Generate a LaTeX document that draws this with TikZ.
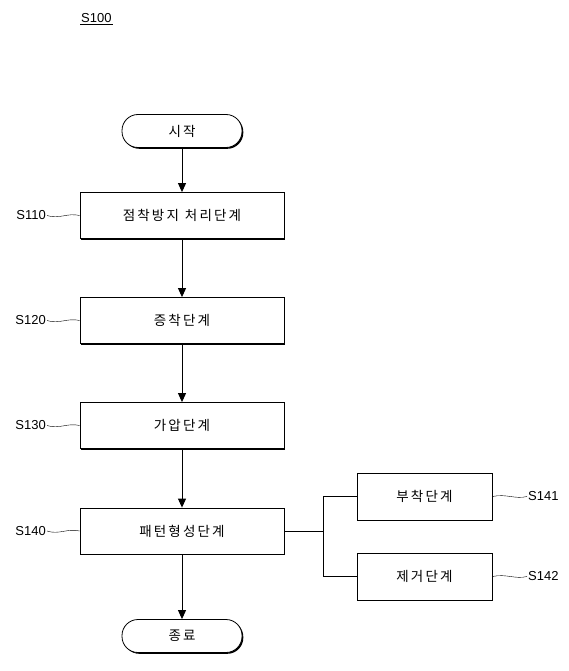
\documentclass[tikz,border=0pt]{standalone}
\usepackage{fontspec}
\setmainfont{Liberation Sans}
\newfontfamily\krfont{Noto Sans CJK KR}[LetterSpace=16]
\usetikzlibrary{arrows.meta, positioning, shadows}

\begin{document}
\begin{tikzpicture}[
        x=1pt, y=-1pt,
        flow/.style={-{Triangle[length=9pt, width=8pt]}, line width=0.9pt},
        link/.style={line width=0.6pt},
        lead/.style={line width=0.4pt},
        stepbox/.style={draw, fill=white, line width=0.8pt, inner sep=0pt,
          minimum width=204pt, minimum height=46pt,
          font=\krfont\fontsize{13.5}{15}\selectfont,
          drop shadow={shadow xshift=1.3pt, shadow yshift=-1.3pt, opacity=1, fill=black}},
        subbox/.style={stepbox, minimum width=135pt, minimum height=47pt},
        term/.style={draw, fill=white, line width=0.8pt, inner sep=0pt,
          minimum width=120pt, minimum height=33pt, rounded corners=16pt,
          font=\krfont\fontsize{13.5}{15}\selectfont,
          drop shadow={shadow xshift=1.3pt, shadow yshift=-1.3pt, opacity=1, fill=black}},
        tag/.style={font=\fontsize{13}{15}\selectfont, inner sep=1pt},
      ]
        \useasboundingbox (0,0) rectangle (568,671);
        % title
        \node[tag, anchor=west] (s100) at (80,18) {S100};
        \draw[line width=0.5pt] (s100.south west) -- (s100.south east);
        % main flow
        \node[term] (start) at (182,131) {시작};
        \node[stepbox] (s110) at (182,215.5) {점착방지\hspace{6pt}처리단계};
        \node[stepbox] (s120) at (182,320.5) {증착단계};
        \node[stepbox] (s130) at (182,425.5) {가압단계};
        \node[stepbox] (s140) at (182,531) {패턴형성단계};
        \node[term] (stop) at (182,636) {종료};
        \draw[flow] (start) -- (s110);
        \draw[flow] (s110) -- (s120);
        \draw[flow] (s120) -- (s130);
        \draw[flow] (s130) -- (s140);
        \draw[flow] (s140) -- (stop);
        % sub steps
        \node[subbox] (s141) at (424.5,496.5) {부착단계};
        \node[subbox] (s142) at (424.5,576.5) {제거단계};
        \coordinate (fork) at (323,531);
        \draw[link] (s140.east) -- (fork);
        \draw[link] (fork) |- (s141.west);
        \draw[link] (fork) |- (s142.west);
        % step labels
        \foreach \n/\yy in {110/215.5, 120/320.5, 130/425.5, 140/531}{
          \node[tag, anchor=east] (l\n) at (47,\yy) {S\n};
          \draw[lead] (l\n.east) .. controls +(12,4) and +(-12,-3) .. (s\n.west);
        }
        \foreach \n/\yy in {141/496.5, 142/576.5}{
          \node[tag, anchor=west] (l\n) at (527,\yy) {S\n};
          \draw[lead] (s\n.east) .. controls +(14,-3) and +(-12,3) .. (l\n.west);
        }
      \end{tikzpicture}
\end{document}
